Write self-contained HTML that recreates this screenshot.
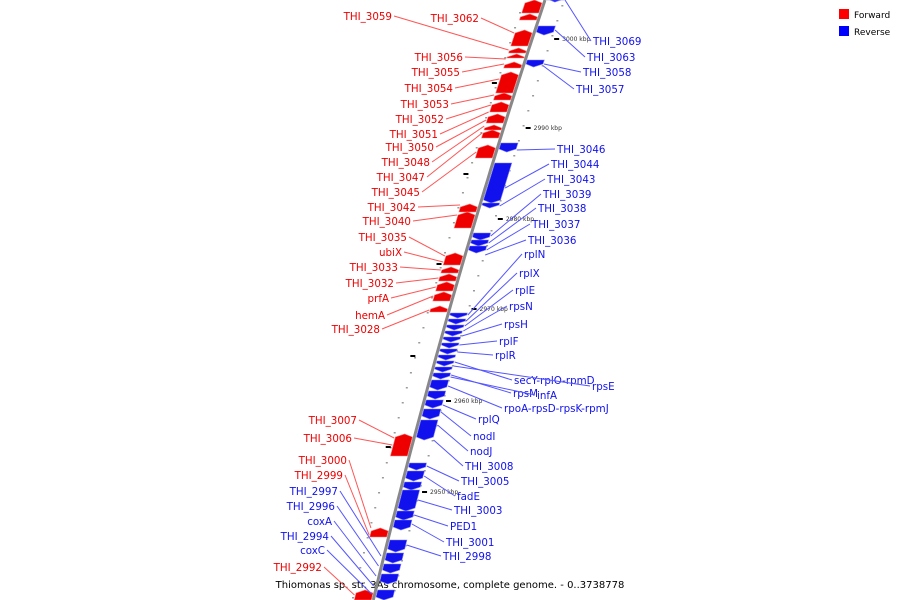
<!DOCTYPE html>
<html><head><meta charset="utf-8"><style>
html,body{margin:0;padding:0;background:#fff;}
svg{display:block;font-family:"DejaVu Sans","Liberation Sans",sans-serif;}
</style></head><body>
<svg id="map" width="900" height="600" viewBox="0 0 900 600">
<g id="legend">
<rect x="839" y="9" width="10" height="10" fill="#f00"/>
<text x="854" y="18" font-size="9">Forward</text>
<rect x="839" y="26" width="10" height="10" fill="#00f"/>
<text x="854" y="35" font-size="9">Reverse</text>
</g>
<text x="450" y="588" font-size="10" text-anchor="middle">Thiomonas sp. str. 3As chromosome, complete genome. - 0..3738778</text>
</svg>
<script>
const ticksKbp=["3000 kbp","2990 kbp","2980 kbp","2970 kbp","2960 kbp","2950 kbp"];
const tickY=[39,128,219,309,401,492];
const fwdStart=[0,14,30,48,54,62,72,93,102,114,125,130,145,204,212,253,267,274,282,292,306,434,528,590];
const fwdEnd=[13,20,46,53,58,68,93,100,112,123,130,138,158,212,228,265,273,281,291,301,312,456,537,600];
const revStart=[0,26,60,143,163,203,233,240,246,313,319,325,331,337,343,349,355,361,367,373,380,391,400,409,420,463,471,482,490,511,520,540,553,564,574,590];
const revEnd=[2,35,67,152,203,208,240,246,253,318,324,330,336,342,348,354,360,366,372,379,390,399,408,419,440,470,481,490,511,520,530,552,563,573,584,600];
const fwdNames=["THI_3059","THI_3062","THI_3056","THI_3055","THI_3054","THI_3053","THI_3052","THI_3051","THI_3050","THI_3048","THI_3047","THI_3045","THI_3042","THI_3040","THI_3035","ubiX","THI_3033","THI_3032","prfA","hemA","THI_3028","THI_3007","THI_3006","THI_3000","THI_2999","THI_2992"];
const fwdLabelY=[16,18,57,72,88,104,119,134,147,162,177,192,207,221,237,252,267,283,298,315,329,420,438,460,475,567];
const fwdTargetY=[50,33,59,64,79,95,105,112,120,126,133,152,205,215,256,262,270,278,287,296,310,438,445,528,535,595];
const revNames=["THI_3069","THI_3063","THI_3058","THI_3057","THI_3046","THI_3044","THI_3043","THI_3039","THI_3038","THI_3037","THI_3036","rplN","rplX","rplE","rpsN","rpsH","rplF","rplR","secY-rplO-rpmD","rpsE","rpsM","infA","rpoA-rpsD-rpsK-rpmJ","rplQ","nodI","nodJ","THI_3008","THI_3005","fadE","THI_3003","PED1","THI_3001","THI_2998","THI_2997","THI_2996","coxA","THI_2994","coxC"];
const revLabelY=[41,57,72,89,149,164,179,194,208,224,240,254,273,290,306,324,341,355,380,386,393,395,408,419,436,451,466,481,496,510,526,542,556,491,506,521,536,550];
const revTargetY=[0,30,64,66,150,188,206,236,243,250,255,315,321,326,331,336,345,352,362,366,375,377,386,405,412,425,440,466,476,500,515,524,545,556,566,576,586,594];
const NS="http://www.w3.org/2000/svg";
const svg=document.getElementById('map');
function lineX(y){return 545-0.333*y+0.000078*y*y;}
function mk(tag,attrs){const e=document.createElementNS(NS,tag);for(const k in attrs)e.setAttribute(k,attrs[k]);svg.appendChild(e);return e;}
let d="";for(let y=0;y<=600;y+=10){d+=(y?"L":"M")+lineX(y).toFixed(1)+" "+y;}
const bb=mk('path',{d:d,stroke:"#888",'stroke-width':3,fill:"none"});


for(let y=5;y<600;y+=15){
 const a=mk('rect',{x:lineX(y)+18,y:y,width:2,height:1.5,fill:"#999"});
 
 
 const b=mk('rect',{x:lineX(y+7)-22,y:y+7,width:2,height:1.5,fill:"#999"});
 
 
}
ticksKbp.forEach((t,i)=>{const y=tickY[i];
 const r=mk('rect',{x:lineX(y)+22,y:y-1,width:5,height:2,fill:"#000"});
 
 
 const l=mk('rect',{x:lineX(y-45)-26,y:y-46,width:5,height:2,fill:"#000"});
 
 
 const tx=mk('text',{x:lineX(y)+30,y:y+2,'font-size':6,fill:"#333"});
 tx.textContent=t;
 
 
});
function feature(y0,y1,side,col,light){
 const w=17,g=2;
 const p=(y,o)=>(lineX(y)+o).toFixed(1)+","+y;
 let pts;
 if(side<0){pts=[p(y0+3,-g),p(y0,-g-w/2),p(y0+3,-g-w),p(y1,-g-w),p(y1,-g)];}
 else{pts=[p(y0,g),p(y0,g+w),p(y1-3,g+w),p(y1,g+w/2),p(y1-3,g)];}
 return mk('polygon',{points:pts.join(" "),fill:col,stroke:light,'stroke-width':0.6});
}
fwdStart.forEach((s,i)=>{const e=feature(s,fwdEnd[i],-1,"#e00","#ff8080");
 
 });
revStart.forEach((s,i)=>{const e=feature(s,revEnd[i],1,"#11e","#8080ff");
 
 });
const fwdEndX=[392,479,463,460,453,449,444,438,434,430,425,420,416,411,407,402,398,394,389,385,380,357,352,347,343,322];
fwdNames.forEach((n,i)=>{const y=fwdLabelY[i]+4,ty=fwdTargetY[i];
 const ex=fwdEndX[i];
 const ln=mk('line',{x1:ex+2,y1:y-4,x2:lineX(ty)-20,y2:ty,stroke:"#f55",'stroke-width':1});
 
 
 const t=mk('text',{x:ex,y:y,'font-size':10.3,fill:"#e00",'text-anchor':"end"});
 t.textContent=n;
 
 
});
const revX=[593,587,583,576,557,551,547,543,538,532,528,524,519,515,509,504,499,495,514,592,513,537,504,478,473,470,465,461,457,454,450,446,443,338,335,332,329,325];
revNames.forEach((n,i)=>{const y=revLabelY[i]+4,ty=revTargetY[i];
 const left=i>=33;
 const x=revX[i];
 const ln=left?mk('line',{x1:x+2,y1:y-4,x2:lineX(ty)-3,y2:ty,stroke:"#55f",'stroke-width':1})
  :mk('line',{x1:x-2,y1:y-4,x2:lineX(ty)+20,y2:ty,stroke:"#55f",'stroke-width':1});
 
 
 const t=mk('text',{x:x,y:y,'font-size':10.3,fill:"#11e",'text-anchor':left?"end":"start"});
 t.textContent=n;
 
 
});
</script>
</body></html>
